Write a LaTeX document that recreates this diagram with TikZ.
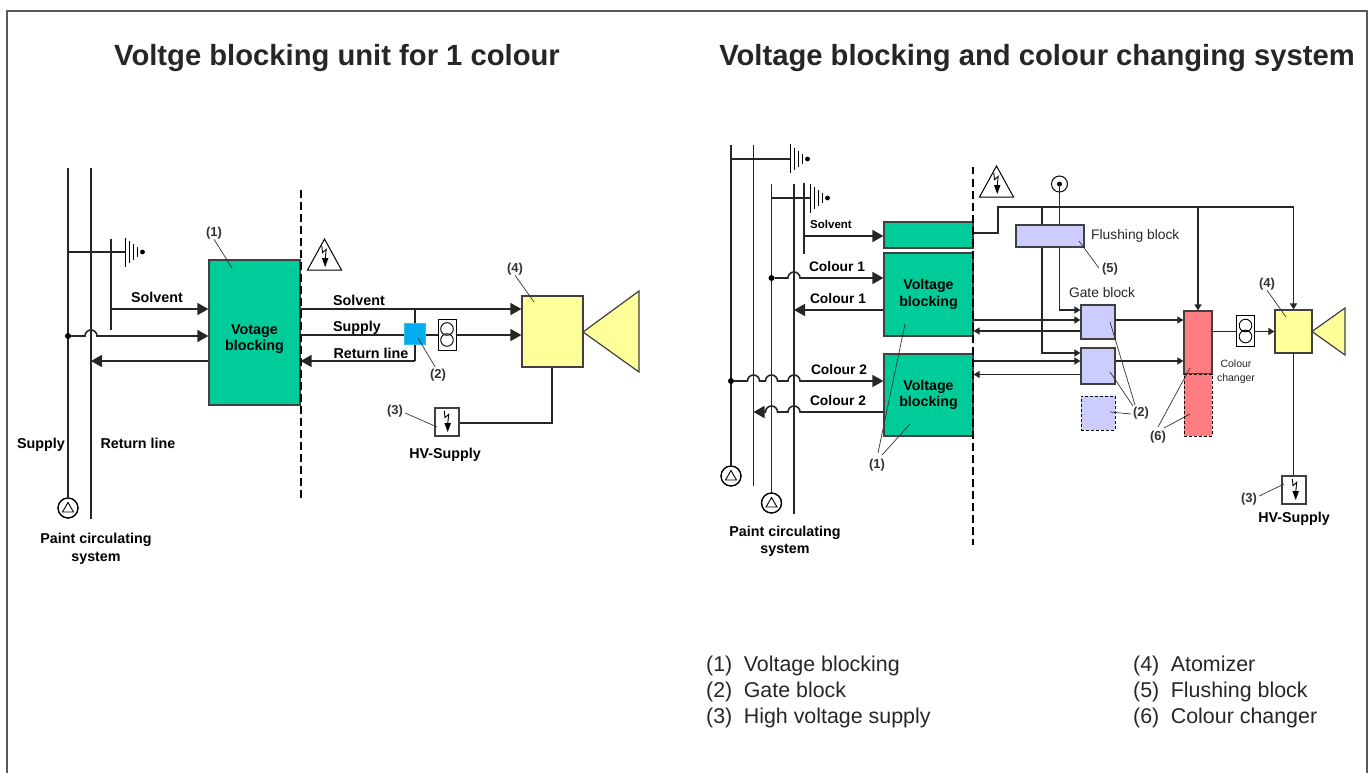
\documentclass[tikz,border=0pt]{standalone}
\usepackage{fontspec}
\setmainfont{Liberation Sans}
\usepackage{xcolor}
\usetikzlibrary{positioning,shapes,arrows,arrows.meta,calc}

\definecolor{blockgreen}{RGB}{0,204,153}
\definecolor{gateblue}{RGB}{204,204,255}
\definecolor{atomyellow}{RGB}{255,255,153}
\definecolor{changerred}{RGB}{255,124,128}
\definecolor{valveblue}{RGB}{0,174,239}
\definecolor{labelgrey}{RGB}{50,50,50}

\tikzset{
    line/.style={line width=1.6pt, draw=black!85},
    flow/.style={line, -{Triangle[length=11pt,width=12pt]}},
    flowsmall/.style={line, -{Triangle[length=6pt,width=7pt]}},
    leader/.style={line width=0.7pt, draw=black!80},
    box/.style={draw=black!75, line width=1.2pt, inner sep=0pt},
    vblock/.style={box, fill=blockgreen, align=center, font=\fontsize{14.2}{16.5}\selectfont\bfseries},
    gate/.style={box, fill=gateblue, minimum width=34pt},
    dashbox/.style={draw=black, line width=1pt, dash pattern=on 3pt off 2pt, inner sep=0pt},
    barrier/.style={draw=black, line width=2pt, dash pattern=on 7.5pt off 4.5pt},
    lbl/.style={font=\fontsize{14.3}{15.5}\selectfont\bfseries, inner sep=0pt, align=center},
    lblcol/.style={font=\fontsize{13.8}{15}\selectfont\bfseries, inner sep=0pt},
    lblsmall/.style={font=\fontsize{11.5}{13}\selectfont\bfseries, inner sep=0pt},
    num/.style={font=\fontsize{13}{15}\selectfont\bfseries, text=labelgrey, inner sep=0pt},
    plain/.style={font=\fontsize{13.8}{15}\selectfont, text=black!85, inner sep=0pt},
    legend/.style={font=\fontsize{21.4}{24}\selectfont, text=black!85, inner sep=0pt, anchor=base west},
    title/.style={font=\fontsize{29.2}{34}\selectfont\bfseries, text=black!85, inner sep=0pt},
    dotnode/.style={circle, fill=black, inner sep=0pt, minimum size=6pt},
    pumpring/.style={circle, draw=black, line width=1.2pt, inner sep=0pt, minimum size=20pt},
    bolt/.pic={
        \draw[line width=0.9pt] (-2.7,-10) -- (-2,-3.3) -- (1.7,-6.7) -- (0.7,3);
        \fill (-2.6,2) -- (4,2) -- (0.7,11) -- cycle;
    },
    hazard/.pic={
        \draw[line width=1pt, line join=miter] (0,-16) -- (17,15) -- (-17,15) -- cycle;
        \pic at (0,1) {bolt};
    },
    earth/.pic={
        \draw[line width=1pt] (0,-14.5) -- (0,14.5);
        \draw[line width=1pt] (4.3,-11) -- (4.3,11);
        \draw[line width=1pt] (8.5,-8) -- (8.5,8);
        \draw[line width=1pt] (12.7,-5) -- (12.7,5);
        \fill (17.5,0) circle (2.4);
    },
    pumpsym/.pic={
        \draw[line width=1pt] (0,0) circle (10) ;
        \draw[line width=0.9pt] (0,-5.5) -- (5.5,4) -- (-5.5,4) -- cycle;
    },
    gear/.pic={
        \draw[line width=1pt, fill=white] (-9,-15.5) rectangle (9,15.5);
        \draw[line width=0.9pt] (0,-5.5) circle (6.3);
        \draw[line width=0.9pt] (0,5.5) circle (6.3);
    },
}

\begin{document}
\begin{tikzpicture}[x=1pt,y=-1pt]
    \useasboundingbox (0,0) rectangle (1371,773);

    % Frame
    \coordinate (fbl) at (7,773);
    \coordinate (ftl) at (7,11);
    \coordinate (ftr) at (1367,11);
    \coordinate (fbr) at (1367,773);
    \draw[line width=1.6pt, black!65] (fbl) -- (ftl) -- (ftr) -- (fbr);

    % Titles
    \node[title] (titleA) at (337,58) {Voltge blocking unit for 1 colour};
    \node[title] (titleB) at (1037,58) {Voltage blocking and colour changing system};

    % ----- One colour -----
    \coordinate (supTop) at (68,168);
    \coordinate (retTop) at (91,168);
    \coordinate (retEnd) at (91,519);
    \node[pumpring] (pumpA) at (68,508) {};
    \pic at (pumpA) {pumpsym};
    \draw[line] (supTop) -- (pumpA);
    \draw[line] (retTop) -- (retEnd);

    \coordinate (earthA) at (125,252);
    \coordinate (tapTop) at (111,239);
    \coordinate (tapEnd) at (111,330);
    \draw[line] (supTop |- earthA) -- (earthA);
    \draw[line] (tapTop) -- (tapEnd);
    \pic at (earthA) {earth};

    \node[vblock, minimum width=91pt, minimum height=145pt] (vbA) at (254.5,332.5) {};
    \node[lbl] (vbAlbl) at (254.5,339) {Votage\\[1pt]blocking};
    \node[dotnode] (dotA) at (68,336) {};

    \draw[flow] (tapEnd |- 0,309) -- (vbA.west |- 0,309);
    \node[lbl] (solA) at (157,297) {Solvent};
    \draw[flow] (dotA) -- (85,336) arc[start angle=180,end angle=360,radius=6] -- (vbA.west |- 0,336);
    \draw[flow] (vbA.west |- 0,361) -- (retEnd |- 0,361);

    \coordinate (barAtop) at (301,190);
    \coordinate (barAend) at (301,498);
    \draw[barrier] (barAtop) -- (barAend);
    \pic at (324.5,255) {hazard};

    \node[num] (n1a) at (214,233) {(1)};
    \coordinate (n1aEnd) at (232,268);
    \draw[leader] (n1a.south) -- (n1aEnd);

    \node[lbl] (supLbl) at (41,445) {Supply};
    \node[lbl] (retLbl) at (138,443) {Return line};
    \node[lbl] (paintA) at (96,549) {Paint circulating\\[2pt]system};

    % Right of the barrier
    \node[box, fill=atomyellow, minimum width=61pt, minimum height=71pt] (atomA) at (552.5,331.5) {};
    \draw[box, fill=atomyellow] (583,332) -- (639,291) -- (639,372) -- cycle;

    \draw[flow] (vbA.east |- 0,309) -- (atomA.west |- 0,309);
    \draw[flow] (vbA.east |- 0,335) -- (atomA.west |- 0,335);
    \node[lbl] (solOut) at (359,300) {Solvent};
    \node[lbl] (supOut) at (357,328) {Supply};
    \node[lbl] (retOut) at (371,353) {Return line};
    \coordinate (retCorner) at (415,361);
    \draw[line] (retCorner |- 0,309) -- (retCorner);
    \draw[flow] (retCorner) -- (vbA.east |- 0,361);

    \node[box, draw=valveblue!80, fill=valveblue, minimum size=21pt] (valveA) at (415,334) {};
    \pic at (447,334.5) {gear};

    \node[box, fill=white, minimum width=24pt, minimum height=28pt] (hvA) at (447,422) {};
    \pic at (447,421) {bolt};
    \coordinate (hvAcorner) at (552,423);
    \draw[line] (atomA.south -| hvAcorner) -- (hvAcorner) -- (hvA.east |- hvAcorner);
    \node[lbl] (hvAlbl) at (445,455) {HV-Supply};

    \node[num] (n2a) at (438,375) {(2)};
    \coordinate (n2aEnd) at (418,338);
    \draw[leader] (n2a.north) ++(-3,-2) -- (n2aEnd);
    \node[num] (n3a) at (395,411) {(3)};
    \coordinate (n3aEnd) at (437,427);
    \draw[leader] (n3a.east) ++(2,2) -- (n3aEnd);
    \node[num] (n4a) at (515,269) {(4)};
    \coordinate (n4aEnd) at (534,302);
    \draw[leader] (n4a.south) -- (n4aEnd);

    % ----- Colour changing -----
    \coordinate (supB1) at (731,145);
    \coordinate (retB1) at (753.5,145);
    \coordinate (retB1end) at (753.5,486);
    \coordinate (supB2) at (771.5,184);
    \coordinate (retB2) at (794,184);
    \coordinate (retB2end) at (794,514);
    \node[pumpring] (pumpB1) at (731,476) {};
    \node[pumpring] (pumpB2) at (771.5,503) {};
    \pic at (pumpB1) {pumpsym};
    \pic at (pumpB2) {pumpsym};
    \draw[line] (supB1) -- (pumpB1);
    \draw[line] (retB1) -- (retB1end);
    \draw[line] (supB2) -- (pumpB2);
    \draw[line] (retB2) -- (retB2end);

    \coordinate (earthB1) at (790,159);
    \coordinate (earthB2) at (810,198);
    \coordinate (tapB) at (804,183);
    \coordinate (tapBend) at (804,254);
    \draw[line] (supB1 |- earthB1) -- (earthB1);
    \draw[line] (supB2 |- earthB2) -- (earthB2);
    \draw[line] (tapB) -- (tapBend);
    \pic at (earthB1) {earth};
    \pic at (earthB2) {earth};

    \node[vblock, minimum width=89pt, minimum height=26pt] (vbSol) at (928.5,235) {};
    \node[vblock, minimum width=89pt, minimum height=83pt] (vb1) at (928.5,294.5) {Voltage\\blocking};
    \node[vblock, minimum width=89pt, minimum height=82pt] (vb2) at (928.5,395) {Voltage\\blocking};
    \node[dotnode] (dot1) at (771.5,278) {};
    \node[dotnode] (dot2) at (731,381) {};

    \draw[flow] (tapB |- 0,236) -- (vbSol.west |- 0,236);
    \node[lblsmall] (solB) at (831,224) {Solvent};
    \draw[flow] (dot1) -- (788,278) arc[start angle=180,end angle=360,radius=6] -- (vb1.west |- 0,278);
    \node[lblcol] (c1in) at (837,267) {Colour 1};
    \draw[flow] (vb1.west |- 0,310) -- (retB2 |- 0,310);
    \node[lblcol] (c1out) at (838,299) {Colour 1};
    \draw[flow] (dot2) -- (747.5,381) arc[start angle=180,end angle=360,radius=6] -- (765.5,381) arc[start angle=180,end angle=360,radius=6] -- (788,381) arc[start angle=180,end angle=360,radius=6] -- (vb2.west |- 0,381);
    \node[lblcol] (c2in) at (839,370) {Colour 2};
    \draw[flow] (vb2.west |- 0,412) -- (800,412) arc[start angle=0,end angle=-180,radius=6] -- (777.5,412) arc[start angle=0,end angle=-180,radius=6] -- (retB1 |- 0,412);
    \node[lblcol] (c2out) at (838,401) {Colour 2};

    \coordinate (barBtop) at (973,167);
    \coordinate (barBend) at (973,545);
    \draw[barrier] (barBtop) -- (barBend);
    \pic at (996.5,182) {hazard};

    \node[lbl] (paintB) at (785,541.5) {Paint circulating\\[2pt]system};

    \node[num] (n1b) at (877,465) {(1)};
    \coordinate (n1bA) at (905,324);
    \coordinate (n1bB) at (910,424);
    \draw[leader] (878,453) -- (n1bA);
    \draw[leader] (882,455) -- (n1bB);

    % Flushing, gates, changer
    \coordinate (solTop) at (998,207);
    \coordinate (solStep) at (998,233);
    \coordinate (flushDrop) at (1042,207);
    \node[circle, draw=black, line width=1pt, inner sep=0pt, minimum size=16pt] (flushIn) at (1059.5,184) {};
    \fill (flushIn) circle (2.5);

    \node[box, fill=atomyellow, minimum width=37pt, minimum height=43pt] (atomB) at (1293.5,331.5) {};
    \draw[box, fill=atomyellow] (1312,331.5) -- (1345,308) -- (1345,355) -- cycle;
    \node[box, fill=changerred, minimum width=28pt, minimum height=63pt] (red1) at (1198,342.5) {};
    \node[dashbox, fill=changerred, minimum width=28pt, minimum height=62pt] (red2) at (1198,405) {};
    \node[font=\fontsize{10.5}{14}\selectfont, text=black!85, inner sep=0pt, align=center] (redLbl) at (1236,372) {Colour\\changer};

    \node[gate, minimum height=34pt] (gate1) at (1098,322) {};
    \node[gate, minimum height=36pt] (gate2) at (1098,366) {};
    \node[dashbox, fill=gateblue, minimum width=34pt, minimum height=34pt] (gate3) at (1098,413) {};
    \node[plain] (gateLbl) at (1102,293) {Gate block};

    % Solvent main
    \draw[line] (vbSol.east |- solStep) -- (solStep) -- (solTop) -- (atomB.north |- solTop);
    \draw[flowsmall] (atomB.north |- solTop) -- (atomB.north);
    \draw[flowsmall] (red1.north |- solTop) -- (red1.north);
    \draw[flowsmall] (flushDrop) -- (flushDrop |- 0,353) -- (gate2.west |- 0,353);
    \draw[flowsmall] (flushIn.center) -- (flushIn.center |- 0,310) -- (gate1.west |- 0,310);
    \node[box, fill=gateblue, minimum width=68pt, minimum height=22pt] (flush) at (1050,236) {};
    \node[plain, anchor=west] (flushLbl) at (1091,236) {Flushing block};

    \draw[flowsmall] (vb1.east |- 0,320) -- (gate1.west |- 0,320);
    \draw[flowsmall] (gate1.west |- 0,331) -- (vb1.east |- 0,331);
    \draw[flowsmall] (vb2.east |- 0,361) -- (gate2.west |- 0,361);
    \draw[flowsmall] (gate2.west |- 0,374.5) -- (vb2.east |- 0,374.5);
    \draw[flowsmall] (gate1.east |- 0,320) -- (red1.west |- 0,320);
    \draw[flowsmall] (gate2.east |- 0,361) -- (red1.west |- 0,361);
    \draw[flowsmall] (red1.east |- 0,331.5) -- (atomB.west |- 0,331.5);
    \pic at (1245.5,331) {gear};

    \node[box, fill=white, minimum width=24pt, minimum height=28pt] (hvB) at (1294,490) {};
    \pic at (1295,489) {bolt};
    \draw[line] (atomB.south) -- (atomB.south |- hvB.north);
    \node[lbl] (hvBlbl) at (1294,519) {HV-Supply};

    \node[num] (n5) at (1110,269) {(5)};
    \coordinate (n5End) at (1079,241);
    \draw[leader] (n5.west) ++(-3,-1) -- (n5End);
    \node[num] (n4b) at (1267,284) {(4)};
    \coordinate (n4bEnd) at (1286,317);
    \draw[leader] (n4b.south) -- (n4bEnd);
    \node[num] (n3b) at (1249,499) {(3)};
    \coordinate (n3bEnd) at (1284,484);
    \draw[leader] (n3b.east) ++(2,-3) -- (n3bEnd);
    \node[num] (n2b) at (1141,413) {(2)};
    \draw[leader] (1135,405) -- (1110,322);
    \draw[leader] (1133,406) -- (1110,372);
    \draw[leader] (1131,414) -- (1110,412);
    \node[num] (n6) at (1158,437) {(6)};
    \draw[leader] (1158,427) -- (1190,368);
    \draw[leader] (1164,428) -- (1190,414);

    % Legend
    \node[legend] (leg1) at (706,671) {(1)\hspace{11.5pt}Voltage blocking};
    \node[legend] (leg2) at (706,697) {(2)\hspace{11.5pt}Gate block};
    \node[legend] (leg3) at (706,723) {(3)\hspace{11.5pt}High voltage supply};
    \node[legend] (leg4) at (1133,671) {(4)\hspace{11.5pt}Atomizer};
    \node[legend] (leg5) at (1133,697) {(5)\hspace{11.5pt}Flushing block};
    \node[legend] (leg6) at (1133,723) {(6)\hspace{11.5pt}Colour changer};
\end{tikzpicture}
\end{document}
